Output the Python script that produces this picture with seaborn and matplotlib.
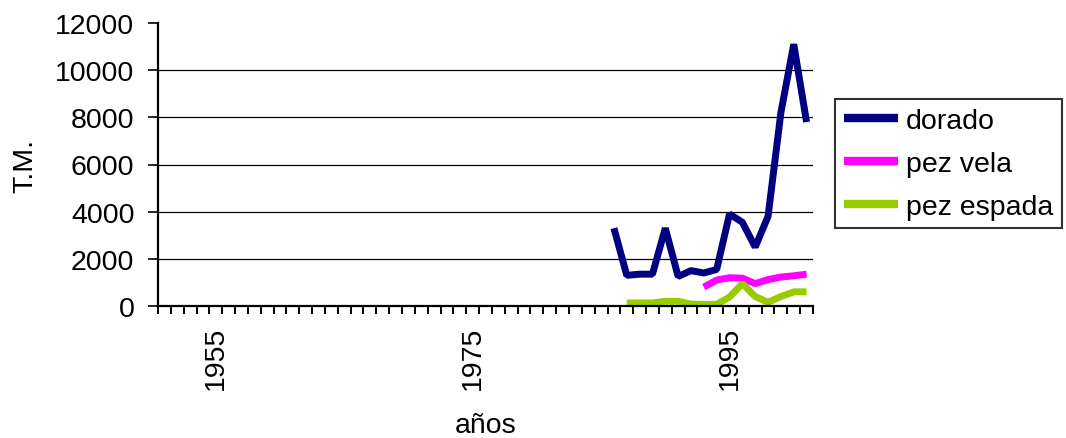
import matplotlib

matplotlib.use("Agg")
import matplotlib.pyplot as plt
import numpy as np
import pandas as pd
import seaborn as sns
from matplotlib.ticker import FixedLocator

# category axis: one slot per year
YEARS = list(range(1951, 2002))
LABEL_YEARS = [1955, 1975, 1995]

DORADO_YEARS = list(range(1986, 2002))
DORADO = [3300, 1300, 1350, 1350, 3300, 1250, 1500, 1400, 1550, 3900, 3550, 2500, 3800, 8200, 11100, 7800]

VELA_YEARS = list(range(1993, 2002))
VELA = [800, 1100, 1200, 1180, 950, 1120, 1230, 1280, 1350]

ESPADA_YEARS = list(range(1987, 2002))
ESPADA = [130, 130, 130, 200, 200, 80, 70, 70, 380, 950, 400, 160, 400, 600, 600]

SERIES = ["dorado", "pez vela", "pez espada"]
COLORS = ["#000080", "#ff00ff", "#99cc00"]

FONT = 20.5


def build_frame() -> pd.DataFrame:
    parts = []
    for name, yrs, vals in [("dorado", DORADO_YEARS, DORADO), ("pez vela", VELA_YEARS, VELA), ("pez espada", ESPADA_YEARS, ESPADA)]:
        parts.append(pd.DataFrame({"year": yrs, "tm": vals, "serie": name}))
    return pd.concat(parts, ignore_index=True)


def main() -> None:
    sns.set_theme(style="white")
    plt.rcParams["font.family"] = ["Liberation Sans", "DejaVu Sans"]
    for key in ["text.color", "axes.labelcolor", "xtick.color", "ytick.color"]:
        plt.rcParams[key] = "black"

    df = build_frame()
    fig = plt.figure(figsize=(10.66, 4.39), dpi=100)
    ax = fig.add_axes([158 / 1066, 1 - 307 / 439, (813 - 158) / 1066, (307 - 24) / 439])

    sns.lineplot(data=df, x="year", y="tm", hue="serie", hue_order=SERIES, palette=COLORS,
                 lw=5, ax=ax, legend=True)
    for line in ax.get_lines():
        line.set_solid_capstyle("butt")
        line.set_solid_joinstyle("bevel")

    ax.set_xlim(YEARS[0] - 0.5, YEARS[-1] + 0.5)
    ax.set_ylim(0, 12000)
    ax.set_yticks(np.arange(0, 12001, 2000))
    ax.set_xticks(LABEL_YEARS)
    ax.set_xticklabels([str(y) for y in LABEL_YEARS], rotation=90, fontsize=FONT)
    ax.xaxis.set_minor_locator(FixedLocator(np.arange(YEARS[0] - 0.5, YEARS[-1] + 1, 1)))
    ax.tick_params(axis="x", which="major", length=0, pad=14)
    ax.tick_params(axis="x", which="minor", bottom=True, direction="out", length=6, width=1.4, color="black")
    ax.tick_params(axis="y", which="major", left=True, direction="out", length=7, width=1.2,
                   color="black", pad=10, labelsize=FONT)

    ax.yaxis.grid(True, color="black", lw=0.9)
    ax.get_ygridlines()[-1].set_visible(False)
    ax.xaxis.grid(False)

    for side in ["top", "right"]:
        ax.spines[side].set_visible(False)
    for side in ["left", "bottom"]:
        ax.spines[side].set_color("black")
        ax.spines[side].set_linewidth(1.6)

    ax.set_xlabel("años", fontsize=FONT, labelpad=17)
    ax.set_ylabel("T.M.", fontsize=FONT, labelpad=12)

    leg = ax.legend(loc="upper left", bbox_to_anchor=(835 / 1066, 1 - 100 / 439),
                    bbox_transform=fig.transFigure, fontsize=FONT, frameon=True,
                    fancybox=False, handlelength=1.9, handletextpad=0.3,
                    labelspacing=0.6, borderpad=0.3, borderaxespad=0)
    leg.get_frame().set_edgecolor("black")
    leg.get_frame().set_linewidth(1.5)
    for line in leg.get_lines():
        line.set_linewidth(6)
        line.set_solid_capstyle("butt")

    fig.savefig("out.png", dpi=100)
    plt.close(fig)


if __name__ == "__main__":
    main()
